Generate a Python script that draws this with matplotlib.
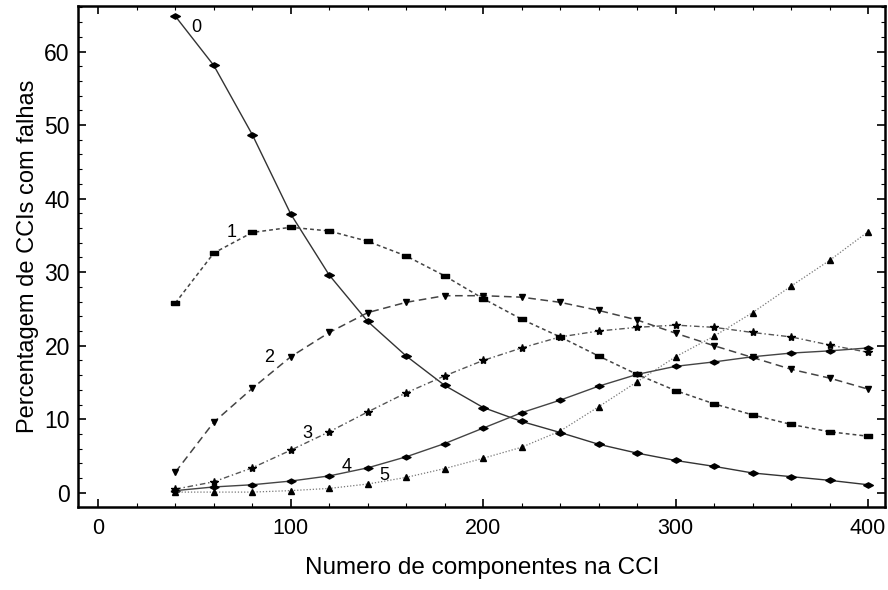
import matplotlib
matplotlib.use("Agg")
import matplotlib.pyplot as plt
from matplotlib.ticker import MultipleLocator
from matplotlib.path import Path

plt.rcParams['font.family'] = ['Liberation Sans', 'DejaVu Sans']

# numero de componentes na CCI
x = [40, 60, 80, 100, 120, 140, 160, 180, 200, 220, 240, 260, 280, 300, 320, 340, 360, 380, 400]

# percentagem de CCIs com 0..5 falhas
s0 = [64.8, 58.1, 48.7, 37.9, 29.6, 23.3, 18.6, 14.6, 11.6, 9.7, 8.2, 6.6, 5.4, 4.4, 3.6, 2.7, 2.2, 1.7, 1.1]
s1 = [25.8, 32.6, 35.4, 36.1, 35.6, 34.2, 32.2, 29.5, 26.4, 23.6, 21.2, 18.6, 16.1, 13.9, 12.1, 10.6, 9.3, 8.3, 7.7]
s2 = [2.8, 9.6, 14.2, 18.5, 21.8, 24.5, 25.9, 26.8, 26.8, 26.6, 25.9, 24.8, 23.5, 21.7, 20.0, 18.4, 16.8, 15.6, 14.1]
s3 = [0.5, 1.5, 3.4, 5.8, 8.3, 11.0, 13.6, 15.9, 18.0, 19.7, 21.2, 22.0, 22.5, 22.8, 22.5, 21.8, 21.2, 20.1, 19.1]
s4 = [0.3, 0.8, 1.1, 1.6, 2.3, 3.4, 4.9, 6.7, 8.8, 10.9, 12.6, 14.5, 16.1, 17.2, 17.8, 18.5, 19.0, 19.3, 19.7]
s5 = [0.1, 0.1, 0.1, 0.3, 0.6, 1.2, 2.1, 3.3, 4.7, 6.2, 8.4, 11.7, 15.1, 18.5, 21.3, 24.5, 28.1, 31.6, 35.5]

labels = ['0', '1', '2', '3', '4', '5']
label_pos = [(51, 63.2), (69.5, 35.4), (89, 18.4), (108.5, 8.0), (129, 3.6), (148.5, 2.3)]

# flattened diamond and flat bar markers like the scanned plot
flat_diamond = Path([(-1, 0), (0, 0.55), (1, 0), (0, -0.55), (-1, 0)])
flat_bar = Path([(-1, -0.45), (1, -0.45), (1, 0.45), (-1, 0.45), (-1, -0.45)])

fig = plt.figure(figsize=(8.88, 5.90), dpi=100)
ax = fig.add_axes([0.088, 0.141, 0.909, 0.849])

ax.plot(x, s0, color='#333333', lw=1.0, ls='-', marker=flat_diamond, ms=7, mfc='black', mec='black')
ax.plot(x, s1, color='#444444', lw=1.1, ls=(0, (2.5, 2)), marker=flat_bar, ms=6, mfc='black', mec='black')
ax.plot(x, s2, color='#444444', lw=1.1, ls=(0, (5, 3)), marker='v', ms=5, mfc='black', mec='black')
ax.plot(x, s3, color='#555555', lw=1.0, ls=(0, (4, 2, 1, 2)), marker='*', ms=6, mfc='black', mec='black')
ax.plot(x, s4, color='#444444', lw=1.0, ls='-', marker=flat_diamond, ms=6.5, mfc='black', mec='black')
ax.plot(x, s5, color='#777777', lw=0.9, ls=(0, (1, 1.5)), marker='^', ms=4.5, mfc='black', mec='black')

for lab, (lx, ly) in zip(labels, label_pos):
    ax.text(lx, ly, lab, fontsize=13, ha='center', va='center')

ax.set_xlim(-10.5, 409)
ax.set_ylim(-1.9, 66.2)
ax.xaxis.set_major_locator(MultipleLocator(100))
ax.xaxis.set_minor_locator(MultipleLocator(20))
ax.yaxis.set_major_locator(MultipleLocator(10))
ax.yaxis.set_minor_locator(MultipleLocator(2))
ax.tick_params(which='both', direction='in', top=True, right=True)
ax.tick_params(axis='x', labelsize=15.5, pad=8)
ax.tick_params(axis='y', labelsize=16.5, pad=6)
ax.tick_params(which='major', length=6, width=1.2)
ax.tick_params(which='minor', length=3, width=0.8)
for sp in ax.spines.values():
    sp.set_linewidth(1.8)

ax.set_xlabel('Numero de componentes na CCI', fontsize=17.5, labelpad=13)
ax.set_ylabel('Percentagem de CCIs com falhas', fontsize=17, labelpad=4)

fig.savefig('out.png', dpi=100)
